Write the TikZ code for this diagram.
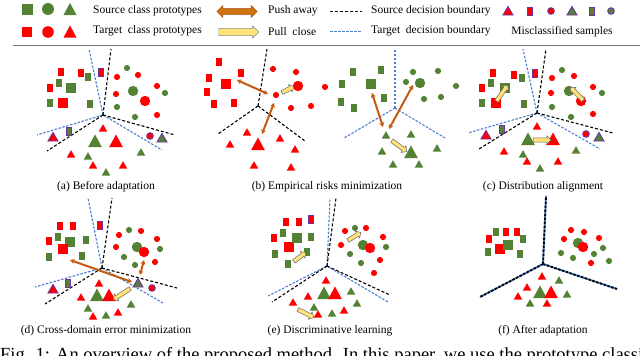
\documentclass[tikz,border=0pt]{standalone}
\usepackage{fontspec}
\setmainfont{Liberation Serif}
\newfontfamily\tms{Liberation Serif}
\usetikzlibrary{shapes.arrows,arrows.meta,calc}
\definecolor{sg}{HTML}{548235}
\definecolor{tr}{HTML}{FF0000}
\definecolor{pp}{HTML}{7030A0}
\definecolor{orr}{HTML}{C55A11}
\definecolor{ordk}{HTML}{A04A0C}
\definecolor{yl}{HTML}{FFE27A}
\definecolor{bl}{HTML}{4A7FD0}
\tikzset{
  srcb/.style={black, dash pattern=on 3pt off 2pt, line width=1.1pt},
  tgtb/.style={bl, dash pattern=on 2.5pt off 1.5pt, line width=1.1pt},
  pushln/.style={orr, line width=2pt, {Stealth[length=4.5pt,width=5pt]}-{Stealth[length=4.5pt,width=5pt]}},
  pullar/.style={single arrow, draw=black!60, fill=yl, line width=0.5pt, inner xsep=0pt, inner ysep=1.8pt,
     minimum width=0pt, single arrow head extend=2pt, single arrow head indent=0pt},
  captxt/.style={font=\tms\fontsize{11.5}{13}\selectfont, inner sep=0pt},
  leg/.style={font=\tms\fontsize{11.5}{13}\selectfont, inner sep=0pt, anchor=west},
}
\newcommand\rects[2]{\foreach \a/\b in {#2} \fill[#1] (\a-3,\b-4.3) rectangle (\a+3,\b+4.3);}
\newcommand\bsq[2]{\foreach \a/\b in {#2} \fill[#1] (\a-5,\b-5) rectangle (\a+5,\b+5);}
\newcommand\circs[2]{\foreach \a/\b in {#2} \fill[#1] (\a,\b) circle (3.1);}
\newcommand\bcirc[2]{\foreach \a/\b in {#2} \fill[#1] (\a,\b) circle (5.2);}
\newcommand\tris[2]{\foreach \a/\b in {#2} \fill[#1] (\a-4.2,\b+3.5) -- (\a+4.2,\b+3.5) -- (\a,\b-3.8) -- cycle;}
\newcommand\btri[2]{\foreach \a/\b in {#2} \fill[#1] (\a-6.8,\b+6) -- (\a+6.8,\b+6) -- (\a,\b-6.5) -- cycle;}
\newcommand\mrect[3]{\filldraw[fill=#1, draw=pp, line width=0.9pt] (#2-2.6,#3-4) rectangle (#2+2.6,#3+4);}
\newcommand\mcirc[3]{\filldraw[fill=#1, draw=pp, line width=0.9pt] (#2,#3) circle (3.3);}
\newcommand\mtri[3]{\filldraw[fill=#1, draw=pp, line width=0.9pt, line join=miter] (#2-5,#3+4) -- (#2+5,#3+4) -- (#2,#3-4.5) -- cycle;}
\newcommand\pull[4]{\path let \p1=($(#3,#4)-(#1,#2)$) in node[pullar, minimum height={veclen(\x1,\y1)}, rotate={atan2(\y1,\x1)}] at ($(#1,#2)!0.5!(#3,#4)$) {};}
\begin{document}
\begin{tikzpicture}[x=1pt,y=-1pt]
\useasboundingbox (0,0) rectangle (640,356);
\fill[white] (0,0) rectangle (640,356);
% ---------- legend ----------
\fill[sg] (21.5,3.5) rectangle (32.5,14.5);
\fill[sg] (48,9) circle (6);
\fill[sg] (63.5,15) -- (76.5,15) -- (70,3) -- cycle;
\fill[tr] (22,27) rectangle (32,37);
\fill[tr] (48,32) circle (5.8);
\fill[tr] (63.5,37.5) -- (76.5,37.5) -- (70,25.5) -- cycle;
\node[leg] (lsrc) at (93,10.5) {Source class prototypes};
\node[leg] (ltgt) at (93,31) {Target\ \ class prototypes};
\node[double arrow, draw=ordk, fill=orr!85!yellow, line width=0.5pt, inner xsep=0pt, inner ysep=2.6pt, minimum height=40pt, minimum width=0pt, double arrow head extend=3pt, double arrow head indent=0pt] (lpush) at (237,11.5) {};
\node[single arrow, draw=black!45, fill=yl, line width=0.6pt, inner xsep=0pt, inner ysep=3.3pt, minimum height=40pt, minimum width=0pt, single arrow head extend=2.5pt, single arrow head indent=0pt] (lpull) at (237,32) {};
\node[leg] (tpush) at (268,11) {Push away};
\node[leg] (tpull) at (268,32) {Pull\ \ close};
\coordinate (ls1) at (330,11); \coordinate (ls2) at (362,11);
\coordinate (lt1) at (330,31); \coordinate (lt2) at (362,31);
\draw[srcb, line width=0.9pt] (ls1) -- (ls2);
\draw[tgtb, line width=0.9pt] (lt1) -- (lt2);
\node[leg] (tsb) at (371,10.5) {Source decision boundary};
\node[leg] (ttb) at (371,31) {Target\ \ decision boundary};
\mtri{tr}{508}{11}
\mrect{tr}{530}{11}
\mcirc{tr}{551}{11}
\mtri{sg}{572}{11}
\mrect{sg}{592}{11}
\mcirc{sg}{611}{11}
\node[leg, anchor=center] (tmis) at (562,31.5) {Misclassified\ samples};
\draw[black!55, line width=0.9pt] (13,45) -- (640,45);
% ---------- panel (a) ----------
\coordinate (ca) at (103,115);
\draw[tgtb] (ca) -- (89,49); \draw[tgtb] (ca) -- (37,135); \draw[tgtb] (ca) -- (162,150);
\draw[srcb] (ca) -- (111,49); \draw[srcb] (ca) -- (47,151); \draw[srcb] (ca) -- (175,135);
\rects{tr}{61/72,81/73,50/88}
\rects{sg}{88/77,59/83,50/103,90/104}
\bsq{sg}{71/88} \bsq{tr}{63/103}
\circs{tr}{138/75,117/77,157/86,116/94,157/115}
\circs{sg}{127/68,165/93,117/107,135/117}
\bcirc{sg}{133/91} \bcirc{tr}{145/101}
\tris{tr}{103/128,71/154,93/165,123/165}
\tris{sg}{141/152,88/156,106/172}
\btri{sg}{95/141} \btri{tr}{116/141}
\mrect{tr}{101}{72} \mtri{tr}{53}{137} \mrect{sg}{69}{131} \mcirc{tr}{150}{136} \mtri{sg}{162}{138}
\node[captxt] (capa) at (106,187) {(a) Before adaptation};
% ---------- panel (b) ----------
\coordinate (cb1) at (258,106);
\draw[srcb] (cb1) -- (267,49); \draw[srcb] (cb1) -- (218,134); \draw[srcb] (cb1) -- (305,141);
\rects{tr}{219/62,241/73,209/78,207/92,214/104,234/103}
\bsq{tr}{226/84}
\circs{tr}{273/69,296/72,325/87,276/95,291/108,311/106}
\bcirc{tr}{298/86}
\tris{tr}{247/132,280/138,230/144,295/149,254/165,291/167}
\btri{tr}{258/144}
\coordinate (pb1) at (237,80); \coordinate (pb2) at (268,94);
\coordinate (pb3) at (274,103); \coordinate (pb4) at (262,134);
\draw[pushln] (pb1) -- (pb2); \draw[pushln] (pb3) -- (pb4);
\pull{281}{93}{293}{87}
\coordinate (cb2) at (395,108);
\draw[tgtb] (cb2) -- (395,49); \draw[tgtb] (cb2) -- (344,138); \draw[tgtb] (cb2) -- (445,138);
\rects{sg}{353/72,381/70,342/84,384/98,341/102,354/108}
\bsq{sg}{371/84}
\circs{sg}{413/72,438/71,406/82,456/86,424/99,441/97}
\bcirc{sg}{420/83}
\tris{sg}{386/135,411/134,382/151,437/148,393/164,419/164}
\btri{sg}{411/152}
\coordinate (pb5) at (372,93); \coordinate (pb6) at (383,127);
\coordinate (pb7) at (413,85); \coordinate (pb8) at (389,129);
\draw[pushln] (pb5) -- (pb6); \draw[pushln] (pb7) -- (pb8);
\pull{391}{140}{406}{151}
\node[captxt] (capb) at (327,187) {(b) Empirical risks minimization};
% ---------- panel (c) ----------
\coordinate (cc) at (537,113);
\draw[tgtb] (cc) -- (523,49); \draw[tgtb] (cc) -- (468,133); \draw[tgtb] (cc) -- (600,149);
\draw[srcb] (cc) -- (546,49); \draw[srcb] (cc) -- (479,149); \draw[srcb] (cc) -- (613,133);
\rects{tr}{493/73,514/75,482/88}
\rects{sg}{491/83,522/78,482/103,524/104}
\bsq{sg}{505/88} \bsq{tr}{496/103}
\circs{sg}{562/70,602/93,552/107,571/117}
\circs{tr}{552/78,574/76,551/93,593/87,593/114}
\bcirc{sg}{569/91} \bcirc{tr}{581/101}
\tris{tr}{537/126,504/151,527/161,558/161}
\tris{sg}{523/154,576/150,540/168}
\btri{sg}{528/139} \btri{tr}{553/139}
\mrect{tr}{535}{73} \mtri{tr}{486}{135} \mrect{sg}{502}{129} \mcirc{tr}{586}{134} \mtri{sg}{599}{137}
\pull{496}{102}{507}{86}
\pull{584}{101}{571}{88}
\pull{532}{140}{550}{140}
\node[captxt] (capc) at (543,187) {(c) Distribution alignment};
% ---------- panel (d) ----------
\coordinate (cd) at (102,268);
\draw[tgtb] (cd) -- (88,198); \draw[tgtb] (cd) -- (35,287); \draw[tgtb] (cd) -- (163,303);
\draw[srcb] (cd) -- (112,198); \draw[srcb] (cd) -- (45,304); \draw[srcb] (cd) -- (177,288);
\rects{tr}{60/226,73/226,49/241}
\rects{sg}{58/237,86/240,49/257,82/256}
\bsq{sg}{70/242} \bsq{tr}{63/249}
\circs{sg}{129/230,160/249,124/257,135/265}
\circs{tr}{141/231,119/235,157/239,116/247,155/262}
\bcirc{sg}{137/247} \bcirc{tr}{144/252}
\tris{tr}{99/283,81/297,118/312,93/316}
\tris{sg}{131/304,88/308,106/315}
\btri{sg}{97/295} \btri{tr}{109/295}
\mrect{tr}{100}{225} \mtri{tr}{53}{289} \mrect{sg}{68}{283} \mtri{sg}{138}{283} \mcirc{tr}{152}{288}
\coordinate (pd1) at (70,260); \coordinate (pd2) at (132,282);
\coordinate (pd3) at (144,260); \coordinate (pd4) at (140,275);
\draw[pushln] (pd1) -- (pd2); \draw[pushln] (pd3) -- (pd4);
\pull{131}{288}{114}{299}
\node[captxt] (capd) at (106,331) {(d) Cross-domain error minimization};
% ---------- panel (e) ----------
\coordinate (ce) at (327,266);
\draw[tgtb] (ce) -- (330,198); \draw[tgtb] (ce) -- (268,296); \draw[tgtb] (ce) -- (388,302);
\draw[srcb] (ce) -- (336,198); \draw[srcb] (ce) -- (272,302); \draw[srcb] (ce) -- (390,295);
\rects{tr}{286/222,299/222,274/238}
\rects{sg}{283/233,311/237,275/254,307/252,288/264}
\bsq{tr}{289/247} \bsq{sg}{297/238}
\circs{sg}{355/228,386/247,350/254,361/263}
\circs{tr}{345/231,366/228,383/237,341/245,380/260,374/273}
\bcirc{sg}{363/245} \bcirc{tr}{370/248}
\tris{tr}{326/280,308/296,293/302,344/310,318/314}
\tris{sg}{351/291,357/303,314/307,332/313}
\btri{sg}{324/293} \btri{tr}{335/293}
\mrect{tr}{311}{219}
\pull{293}{262}{305}{253}
\pull{347}{241}{360}{233}
\pull{297}{309}{313}{317}
\node[captxt] (cape) at (330,331) {(e) Discriminative learning};
% ---------- panel (f) ----------
\coordinate (cf) at (543,264);
\foreach \e in {(546,196),(480,297),(617,289)} {
  \draw[bl, line width=1.8pt] (cf) -- \e;
  \draw[black, line width=1.8pt, dash pattern=on 2.5pt off 1.5pt] (cf) -- \e;
}
\rects{tr}{506/232,517/232,489/239}
\rects{sg}{496/232,523/239,488/252,520/254}
\bsq{tr}{500/249} \bsq{sg}{508/245}
\circs{tr}{571/230,584/232,564/239,599/238,591/263}
\circs{sg}{603/248,561/253,594/254,573/258,609/261}
\bcirc{sg}{578/243} \bcirc{tr}{583/247}
\tris{tr}{542/276,527/287,518/296,547/303}
\tris{sg}{559/280,567/294,530/303}
\btri{sg}{540/292} \btri{tr}{551/292}
\node[captxt] (capf) at (543,331) {(f) After adaptation};
% ---------- figure caption (cut by the picture edge, as in the reference) ----------
\node[font=\tms\fontsize{18.5}{21}\selectfont, inner sep=0pt, anchor=base west] (fig) at (0,360) {Fig. 1: An overview of the proposed method. In this paper, we use the prototype classi};
\end{tikzpicture}
\end{document}
